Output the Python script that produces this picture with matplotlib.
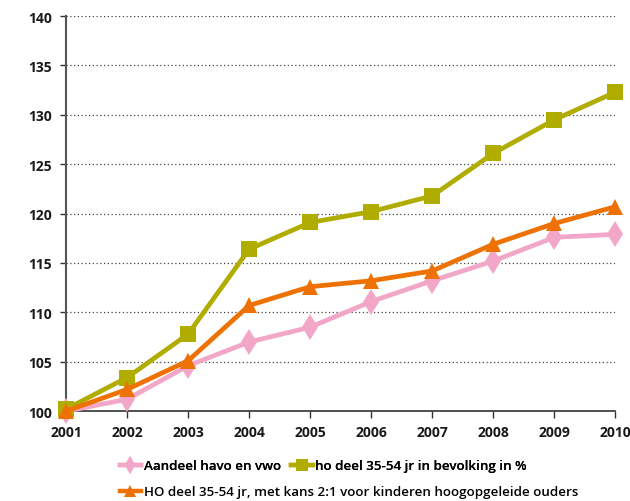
import matplotlib
matplotlib.use("Agg")
import matplotlib.pyplot as plt
from matplotlib.lines import Line2D

plt.rcParams['font.family'] = ['Open Sans', 'DejaVu Sans']

years = [2001, 2002, 2003, 2004, 2005, 2006, 2007, 2008, 2009, 2010]
havo_vwo = [100.0, 101.2, 104.6, 107.0, 108.5, 111.1, 113.2, 115.2, 117.6, 117.9]
ho_deel = [100.2, 103.4, 107.8, 116.4, 119.1, 120.2, 121.8, 126.1, 129.5, 132.3]
ho_kans = [100.0, 102.2, 105.1, 110.7, 112.6, 113.2, 114.2, 116.9, 119.0, 120.7]
yticks = [100, 105, 110, 115, 120, 125, 130, 135, 140]
labels = ['Aandeel havo en vwo', 'ho deel 35-54 jr in bevolking in %',
          'HO deel 35-54 jr, met kans 2:1 voor kinderen hoogopgeleide ouders']

c_pink = '#F2A7C8'
c_green = '#B0AC00'
c_orange = '#EE7203'

fig = plt.figure(figsize=(6.30, 5.02), dpi=100)
ax = fig.add_axes([0.1048, 0.179, 0.872, 0.787])

ax.plot(years, havo_vwo, color=c_pink, lw=3.4, marker='d', ms=13,
        markeredgewidth=0, zorder=3)
ax.plot(years, ho_deel, color=c_green, lw=3.4, marker='s', ms=11,
        markeredgewidth=0, zorder=4)
ax.plot(years, ho_kans, color=c_orange, lw=3.4, marker='^', ms=12,
        markeredgewidth=0, zorder=5)

ax.set_xlim(2001, 2010)
ax.set_ylim(100, 140)
ax.set_yticks(yticks)
ax.set_xticks(years)
ax.tick_params(axis='y', length=4, width=1, color='#333333', labelsize=10, pad=6)
ax.tick_params(axis='x', length=5, width=1, color='#333333', labelsize=10, pad=5)
for lab in ax.get_xticklabels() + ax.get_yticklabels():
    lab.set_fontweight('bold')
    lab.set_color('#1a1a1a')

ax.grid(axis='y', color='#444444', linestyle=(0, (1, 2)), lw=0.9)
ax.set_axisbelow(True)
for s in ['top', 'right']:
    ax.spines[s].set_visible(False)
ax.spines['left'].set_color('#555555')
ax.spines['left'].set_linewidth(1.5)
ax.spines['bottom'].set_color('#333333')
ax.spines['bottom'].set_linewidth(1.2)
for line in ax.lines:
    line.set_clip_on(False)

h_pink = Line2D([], [], color=c_pink, lw=3.2, marker='d', ms=9, markeredgewidth=0)
h_green = Line2D([], [], color=c_green, lw=3.2, marker='s', ms=8, markeredgewidth=0)
h_orange = Line2D([], [], color=c_orange, lw=3.2, marker='^', ms=9, markeredgewidth=0)

leg1 = fig.legend([h_pink, h_green], labels[:2], ncol=2, loc='center left',
                  bbox_to_anchor=(0.19, 0.07), frameon=False, fontsize=9.6,
                  handlelength=1.6, handletextpad=0.2, columnspacing=0.8,
                  borderaxespad=0, borderpad=0)
leg2 = fig.legend([h_orange], labels[2:], loc='center left',
                  bbox_to_anchor=(0.19, 0.018), frameon=False, fontsize=9.6,
                  handlelength=1.6, handletextpad=0.2, borderaxespad=0, borderpad=0)
fig.add_artist(leg1)
for leg in (leg1, leg2):
    for t in leg.get_texts():
        t.set_fontweight('semibold')

fig.savefig('out.png', dpi=100)
